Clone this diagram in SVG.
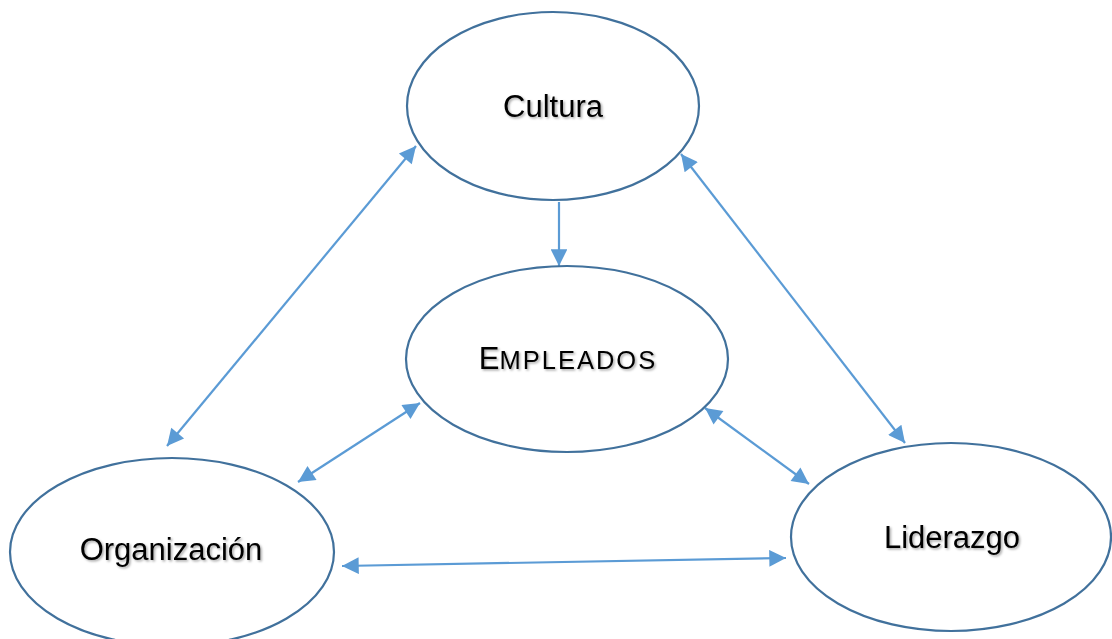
<svg xmlns="http://www.w3.org/2000/svg" width="1112" height="639" viewBox="0 0 1112 639">
  <style>
    .node ellipse { fill: #ffffff; stroke: #41719C; stroke-width: 2.2; }
    .label { font-family: "Liberation Sans", Arial, sans-serif; font-size: 31px; fill: #000000; text-anchor: middle; filter: url(#shadow); }
    .conn { stroke: #5B9BD5; stroke-width: 2.2; fill: none; }
  </style>
  <defs>
    <filter id="shadow" x="-10%" y="-20%" width="120%" height="150%">
      <feDropShadow dx="1.5" dy="1.5" stdDeviation="0.8" flood-color="#000000" flood-opacity="0.35"/>
    </filter>
    <marker id="arrow" viewBox="0 0 10 10" refX="10" refY="5" markerWidth="8.8" markerHeight="7.6" orient="auto-start-reverse" markerUnits="strokeWidth">
      <path d="M0,0 L10,5 L0,10 z" fill="#5B9BD5"/>
    </marker>
  </defs>

  <!-- connectors -->
  <g id="connectors">
    <line class="conn" x1="559" y1="202" x2="559" y2="266" marker-end="url(#arrow)"/>
    <line class="conn" x1="416" y1="146" x2="167" y2="446" marker-start="url(#arrow)" marker-end="url(#arrow)"/>
    <line class="conn" x1="681" y1="154" x2="905" y2="443" marker-start="url(#arrow)" marker-end="url(#arrow)"/>
    <line class="conn" x1="420" y1="403" x2="298" y2="482" marker-start="url(#arrow)" marker-end="url(#arrow)"/>
    <line class="conn" x1="705" y1="408" x2="809" y2="484" marker-start="url(#arrow)" marker-end="url(#arrow)"/>
    <line class="conn" x1="342" y1="566" x2="786" y2="558" marker-start="url(#arrow)" marker-end="url(#arrow)"/>
  </g>

  <g id="cultura" class="node">
    <ellipse cx="553" cy="106" rx="146" ry="94"/>
    <text class="label" x="553" y="117">Cultura</text>
  </g>

  <g id="empleados" class="node">
    <ellipse cx="567" cy="359" rx="161" ry="93"/>
    <text class="label" x="568" y="369">E<tspan font-size="25.5" letter-spacing="2">MPLEADOS</tspan></text>
  </g>

  <g id="organizacion" class="node">
    <ellipse cx="172" cy="552" rx="162" ry="94"/>
    <text class="label" x="171" y="560">Organización</text>
  </g>

  <g id="liderazgo" class="node">
    <ellipse cx="951" cy="537" rx="160" ry="94"/>
    <text class="label" x="952" y="548">Liderazgo</text>
  </g>
</svg>
